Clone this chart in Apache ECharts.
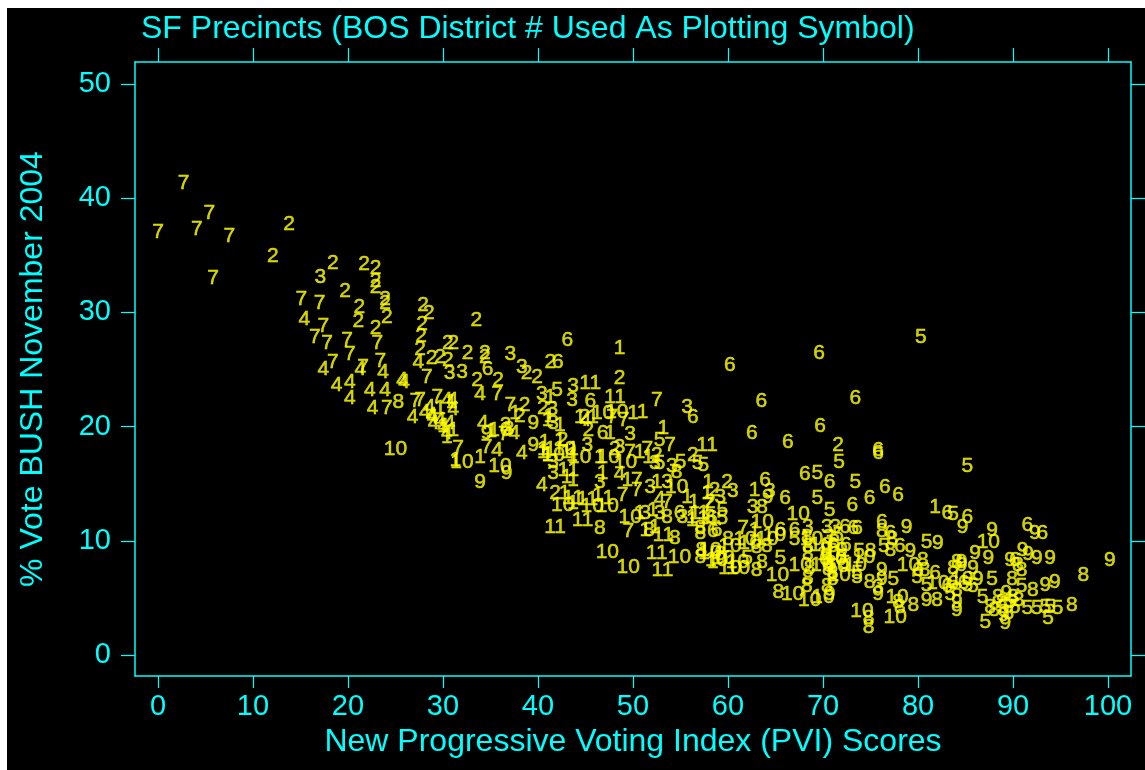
<!DOCTYPE html>
<html>
<head>
<meta charset="utf-8">
<script src="https://cdn.jsdelivr.net/npm/echarts@6/dist/echarts.min.js"></script>
<style>
html,body{margin:0;padding:0;background:#fff;width:1145px;height:770px;overflow:hidden;}
#wrap{position:absolute;left:7px;top:8px;width:1138px;height:762px;background:#000;}
#chart{width:1138px;height:762px;}
</style>
</head>
<body>
<div id="wrap"><div id="chart"></div></div>
<script>
const xTicks = [0,10,20,30,40,50,60,70,80,90,100];
const yTicks = [0,10,20,30,40,50];
const districtLabels = ['1','2','3','4','5','6','7','8','9','10','11'];

// [PVI score, % Bush] per BOS district
const dist1 = [[29.7,21.6],[31.3,17.1],[41.3,22.6],[41.2,20.9],[41.0,20.6],[42.3,20.1],[30.9,22.1],[30.0,20.0],[31.1,19.7],[30.4,19.1],[33.9,17.3],[35.1,19.6],[37.6,21.2],[40.5,17.8],[41.0,17.5],[43.0,17.8],[43.6,17.5],[43.0,15.6],[43.7,15.3],[42.8,14.2],[43.7,13.3],[44.4,20.8],[45.8,20.8],[50.0,21.2],[51.0,21.3],[47.6,19.4],[53.2,19.9],[40.7,18.6],[42.3,18.8],[40.5,18.0],[41.3,18.0],[43.7,18.0],[46.5,17.3],[50.7,17.8],[51.6,17.3],[46.8,15.9],[49.4,15.3],[52.5,15.1],[46.3,14.0],[47.4,13.7],[55.7,13.8],[57.8,14.2],[50.7,12.4],[52.1,12.7],[56.2,12.1],[57.4,12.4],[51.3,10.9],[52.3,11.2],[48.6,26.9],[57.9,15.1],[62.8,14.4],[56.4,13.4],[56.5,12.4],[56.2,11.8],[57.4,12.0],[62.8,10.9],[58.4,8.1],[81.8,12.9]];
const dist2 = [[13.8,37.7],[12.1,34.9],[18.4,34.3],[21.7,34.2],[22.9,33.9],[22.9,32.7],[22.9,32.2],[19.7,31.9],[23.9,31.2],[21.2,30.5],[21.1,29.2],[23.9,30.8],[24.1,29.6],[22.9,28.6],[27.9,30.6],[28.5,29.9],[27.8,29.0],[27.7,27.9],[30.5,27.3],[31.1,27.3],[27.6,26.8],[28.8,26.0],[29.7,26.1],[30.5,25.8],[33.5,29.3],[32.6,26.4],[34.4,26.4],[34.4,26.1],[33.6,24.1],[35.8,24.1],[38.8,24.7],[39.9,24.3],[41.3,25.6],[38.6,21.9],[40.5,21.6],[36.6,20.1],[38.1,20.9],[41.8,14.2],[48.6,24.2],[44.9,20.8],[45.3,19.7],[42.6,18.8],[48.1,18.0],[52.5,17.5],[56.3,17.5],[58.1,13.4],[71.6,18.4],[59.9,15.1],[58.6,14.4]];
const dist3 = [[17.1,33.1],[30.7,24.7],[32.0,24.8],[37.1,26.3],[38.3,25.2],[43.7,23.5],[40.4,22.8],[43.6,22.3],[41.5,21.5],[41.6,20.3],[36.9,19.8],[41.6,15.9],[55.7,21.7],[49.7,19.3],[54.1,16.5],[45.2,18.4],[48.6,18.2],[52.3,16.8],[41.6,16.9],[46.5,15.1],[51.8,14.7],[53.6,15.1],[51.3,12.4],[52.8,12.4],[55.2,12.1],[60.5,14.3],[59.2,13.8],[64.4,14.3],[62.6,12.9],[68.4,11.2],[70.4,11.2],[71.3,11.2],[75.8,5.9],[70.6,10.3]];
const dist4 = [[15.4,29.4],[17.4,25.0],[18.8,23.6],[27.4,25.6],[21.3,25.0],[23.7,24.8],[25.7,24.1],[25.9,23.9],[20.2,23.9],[22.3,23.2],[23.9,23.2],[20.2,22.5],[22.6,21.6],[26.8,20.8],[28.1,21.3],[28.8,21.0],[30.4,22.3],[31.0,22.3],[29.0,20.3],[30.0,20.0],[30.4,19.4],[33.9,22.8],[28.6,21.7],[31.1,21.5],[28.9,20.8],[29.7,20.6],[30.7,20.3],[34.2,20.3],[37.5,19.4],[35.7,17.9],[38.3,17.7],[40.4,14.9],[45.0,20.6],[48.6,15.8],[52.8,13.6]];
const dist5 = [[42.0,23.2],[52.8,18.8],[56.8,16.8],[57.4,16.6],[55.0,16.9],[52.8,16.8],[71.7,16.9],[69.4,15.9],[73.4,15.1],[69.4,13.7],[70.7,12.7],[59.4,12.7],[59.4,12.0],[62.0,8.5],[65.5,8.5],[67.0,10.1],[71.9,8.6],[72.3,8.0],[71.6,10.5],[73.6,7.2],[80.3,27.8],[85.2,16.5],[83.7,12.3],[80.9,9.9],[76.4,9.5],[73.8,9.1],[73.6,6.8],[77.4,6.6],[79.9,6.8],[80.9,6.1],[85.2,6.1],[83.4,5.3],[90.9,6.0],[87.8,6.6],[85.8,6.0],[86.8,5.1],[89.0,4.2],[89.7,4.6],[90.2,4.2],[87.1,2.9],[91.5,4.1],[92.5,4.1],[93.4,4.2],[93.9,4.2],[94.7,4.1],[93.7,3.2]];
const dist6 = [[43.1,27.6],[34.7,25.0],[42.1,25.6],[56.3,20.8],[45.5,22.2],[46.8,19.4],[54.9,12.4],[58.4,10.8],[68.1,15.8],[70.7,15.1],[63.9,15.3],[66.0,13.7],[73.1,13.1],[58.3,12.0],[58.8,10.9],[65.5,10.9],[72.3,11.2],[73.2,11.1],[67.0,10.9],[71.0,9.5],[70.2,8.4],[72.4,9.6],[60.2,25.4],[69.6,26.4],[63.5,22.2],[73.4,22.5],[62.5,19.4],[69.7,20.0],[66.3,18.6],[75.8,17.9],[75.8,17.7],[76.5,14.7],[77.9,14.0],[74.9,13.7],[83.1,12.4],[85.2,12.1],[76.2,11.6],[73.6,11.1],[77.1,10.7],[78.1,9.5],[80.0,7.4],[81.8,7.2],[83.1,6.0],[83.7,6.3],[84.8,6.3],[91.5,11.4],[93.1,10.7],[90.2,8.3]];
const dist7 = [[2.7,41.3],[5.4,38.7],[0.0,37.0],[4.1,37.3],[7.5,36.7],[5.8,33.0],[15.1,31.2],[17.0,30.8],[17.4,28.8],[16.5,27.8],[17.8,27.3],[18.4,25.6],[19.9,27.6],[23.1,27.3],[20.2,26.3],[21.6,25.2],[23.4,25.7],[24.1,21.6],[27.1,22.2],[29.4,22.6],[28.3,24.3],[35.7,22.8],[37.1,21.9],[27.6,22.3],[31.6,18.1],[36.4,19.3],[34.6,18.2],[47.8,20.8],[49.0,20.6],[52.5,22.3],[53.9,18.4],[49.7,17.8],[51.5,18.0],[50.4,15.3],[48.9,14.0],[50.4,14.4],[53.6,13.4],[49.5,10.8],[57.9,13.1],[61.6,11.1]];
const dist8 = [[25.3,22.1],[54.6,16.0],[53.6,12.1],[58.1,12.1],[46.5,11.1],[51.7,10.9],[54.4,10.2],[57.1,10.7],[57.1,8.6],[63.6,12.9],[57.1,11.1],[57.2,9.2],[60.0,10.1],[63.0,9.4],[64.1,9.5],[63.6,8.1],[63.0,7.4],[59.2,8.8],[65.3,5.5],[68.3,6.0],[68.4,6.7],[68.6,7.6],[68.4,8.8],[68.4,9.5],[68.3,10.3],[70.4,6.0],[71.0,7.2],[70.3,9.2],[70.8,8.0],[70.5,7.5],[71.2,9.9],[71.0,6.6],[76.2,10.8],[77.3,10.1],[77.1,9.2],[75.0,9.1],[80.5,8.3],[80.7,7.4],[84.1,8.1],[83.7,7.6],[74.9,6.4],[84.1,5.7],[77.9,4.6],[79.5,4.4],[78.1,4.2],[82.0,4.8],[74.8,3.2],[74.8,2.4],[90.5,7.9],[90.9,7.4],[97.4,7.0],[89.9,6.6],[92.1,5.7],[87.6,4.2],[88.4,5.1],[90.0,5.1],[89.5,3.7],[96.2,4.4],[88.8,4.6],[90.6,4.8],[88.0,3.9]];
const dist9 = [[33.9,15.1],[34.6,19.4],[36.7,15.9],[39.5,20.3],[39.5,18.4],[64.2,13.8],[72.0,9.2],[84.7,11.2],[78.8,11.2],[82.1,9.8],[86.0,8.9],[79.2,9.1],[84.6,7.9],[85.8,7.6],[76.2,7.4],[76.2,6.6],[75.8,5.3],[80.9,4.8],[84.1,4.6],[84.1,3.9],[70.7,5.3],[87.8,10.9],[92.3,10.7],[87.4,8.5],[84.6,8.1],[89.7,8.3],[91.0,9.2],[91.6,8.8],[92.5,8.5],[93.9,8.5],[100.2,8.3],[93.4,6.1],[94.4,6.4],[86.3,6.6],[89.2,2.8],[89.3,5.4],[89.0,3.5]];
const dist10 = [[25.0,18.0],[32.0,16.9],[36.0,19.7],[36.0,16.5],[41.6,17.5],[42.6,13.1],[46.8,21.2],[48.3,21.3],[42.8,18.0],[44.4,17.3],[47.4,17.3],[49.2,16.9],[54.6,14.7],[45.7,13.0],[47.3,13.0],[49.7,12.1],[47.3,9.0],[49.5,7.7],[54.9,8.6],[58.1,9.2],[58.8,8.3],[67.4,12.3],[63.6,11.6],[64.9,10.5],[58.1,8.9],[60.2,9.5],[62.3,9.8],[61.8,10.1],[64.1,10.1],[61.0,8.1],[61.1,7.6],[65.2,7.0],[59.5,8.5],[60.2,7.6],[67.6,7.9],[66.8,5.3],[68.6,4.8],[70.0,5.1],[68.8,10.1],[69.8,9.6],[70.6,8.8],[71.3,8.4],[71.5,7.8],[71.7,7.0],[69.9,7.9],[73.4,7.9],[74.1,3.8],[74.3,8.6],[79.0,7.9],[82.1,6.3],[77.8,5.1],[77.6,3.3],[87.4,9.9],[84.6,6.6]];
const dist11 = [[41.8,11.2],[45.5,23.8],[48.1,22.6],[43.2,16.2],[43.7,13.7],[45.2,13.6],[44.7,11.8],[53.2,10.5],[52.5,8.9],[53.1,7.4],[57.8,18.4]];

const districts = [dist1,dist2,dist3,dist4,dist5,dist6,dist7,dist8,dist9,dist10,dist11];
const points = [];
districts.forEach((arr, i) => arr.forEach(p => points.push([p[0], p[1], districtLabels[i]])));

const CYAN = '#00FFFF', YELLOW = '#FFFF00';
const FONT = '"Liberation Sans", Arial, Helvetica, sans-serif';

const chart = echarts.init(document.getElementById('chart'), null, {renderer: 'canvas'});
const xBase = {
  type: 'value', min: -2.42, max: 102.42,
  splitLine: {show: false},
  axisLine: {show: true, onZero: false, lineStyle: {color: CYAN, width: 1.5}}
};
const yBase = {
  type: 'value', min: -1.84, max: 51.93,
  splitLine: {show: false},
  axisLine: {show: true, onZero: false, lineStyle: {color: CYAN, width: 1.5}}
};
chart.setOption({
  backgroundColor: '#000',
  animation: false,
  title: {
    text: 'SF Precincts (BOS District # Used As Plotting Symbol)',
    left: 129, top: 0,
    textStyle: {color: CYAN, fontSize: 32, fontWeight: 'normal', fontFamily: FONT}
  },
  grid: {left: 128, right: 14, top: 54, bottom: 94, containLabel: false},
  xAxis: [
    Object.assign({}, xBase, {
      position: 'bottom',
      name: 'New Progressive Voting Index (PVI) Scores',
      nameLocation: 'middle', nameGap: 44,
      nameTextStyle: {color: CYAN, fontSize: 32, fontFamily: FONT},
      axisTick: {show: true, inside: false, length: 12, customValues: xTicks, lineStyle: {color: CYAN, width: 1.2}},
      axisLabel: {show: true, customValues: xTicks, color: CYAN, fontSize: 29, fontFamily: FONT, margin: 16}
    }),
    Object.assign({}, xBase, {
      position: 'top',
      axisTick: {show: true, inside: false, length: 14, customValues: xTicks, lineStyle: {color: CYAN, width: 1.2}},
      axisLabel: {show: false}
    })
  ],
  yAxis: [
    Object.assign({}, yBase, {
      position: 'left',
      name: '% Vote BUSH November 2004',
      nameLocation: 'middle', nameGap: 86, nameRotate: 90,
      nameTextStyle: {color: CYAN, fontSize: 32, fontFamily: FONT},
      axisTick: {show: true, inside: false, length: 14, customValues: yTicks, lineStyle: {color: CYAN, width: 1.2}},
      axisLabel: {show: true, customValues: yTicks, color: CYAN, fontSize: 29, fontFamily: FONT, margin: 24}
    }),
    Object.assign({}, yBase, {
      position: 'right',
      axisTick: {show: true, inside: false, length: 14, customValues: yTicks, lineStyle: {color: CYAN, width: 1.2}},
      axisLabel: {show: false}
    })
  ],
  series: [{
    type: 'scatter',
    xAxisIndex: 0, yAxisIndex: 0,
    silent: true,
    symbol: 'circle', symbolSize: 1,
    itemStyle: {color: 'rgba(0,0,0,0)'},
    label: {
      show: true, position: 'inside',
      formatter: p => p.value[2],
      color: YELLOW, fontSize: 21, fontFamily: FONT,
      textBorderColor: YELLOW, textBorderWidth: 0.5
    },
    emphasis: {disabled: true},
    data: points
  }]
});
</script>
</body>
</html>
